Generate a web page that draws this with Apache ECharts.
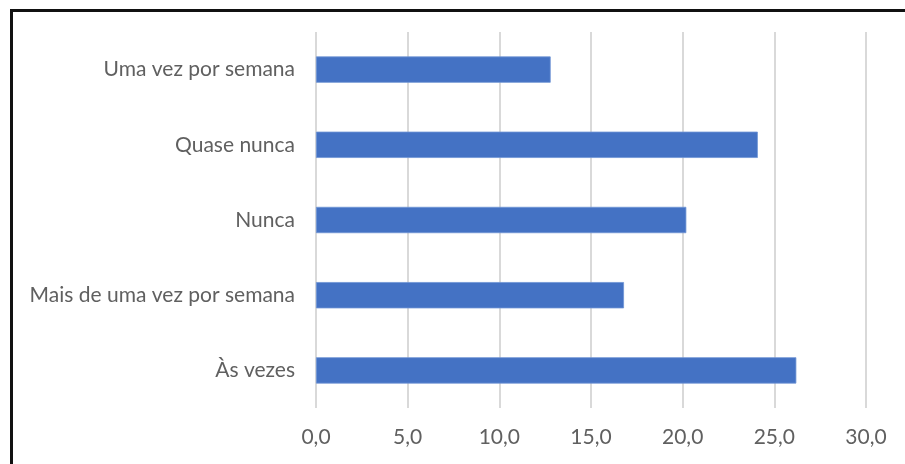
<!DOCTYPE html>
<html>
<head>
<meta charset="utf-8">
<script src="https://cdn.jsdelivr.net/npm/echarts@6/dist/echarts.min.js"></script>
<style>
  html, body { margin: 0; padding: 0; background: #ffffff; }
  #chart { width: 905px; height: 464px; }
</style>
</head>
<body>
<div id="chart"></div>
<script>
// Frequency categories (bottom to top on the axis)
const categories = ['Às vezes', 'Mais de uma vez por semana', 'Nunca', 'Quase nunca', 'Uma vez por semana'];
const values = [26.2, 16.8, 20.2, 24.1, 12.8];
const axisMin = 0;
const axisMax = 30;
const axisStep = 5;

const chart = echarts.init(document.getElementById('chart'), null, { renderer: 'canvas' });

const textColor = '#606060';
const fontFamily = 'Lato, "Open Sans", sans-serif';

chart.setOption({
  animation: false,
  backgroundColor: '#ffffff',
  grid: { left: 316, right: 39, top: 32, bottom: 56, containLabel: false },
  xAxis: {
    type: 'value',
    min: axisMin,
    max: axisMax,
    interval: axisStep,
    axisLine: { show: false },
    axisTick: { show: false },
    splitLine: { show: true, lineStyle: { color: '#d9d9d9', width: 2 } },
    axisLabel: {
      color: textColor,
      fontFamily: fontFamily,
      fontSize: 21,
      margin: 19,
      formatter: v => v.toFixed(1).replace('.', ',')
    }
  },
  yAxis: {
    type: 'category',
    data: categories,
    axisLine: { show: false },
    axisTick: { show: false },
    axisLabel: {
      color: textColor,
      fontFamily: fontFamily,
      fontSize: 21,
      margin: 21
    }
  },
  series: [{
    type: 'bar',
    data: values,
    barCategoryGap: '65%',
    itemStyle: { color: '#4472c4', borderColor: '#6f94d4', borderWidth: 0.8 }
  }],
  graphic: [
    { type: 'rect', shape: { x: 10, y: 9, width: 3, height: 455 }, style: { fill: '#111111' } },
    { type: 'rect', shape: { x: 10, y: 9, width: 895, height: 3 }, style: { fill: '#111111' } }
  ]
});
</script>
</body>
</html>
